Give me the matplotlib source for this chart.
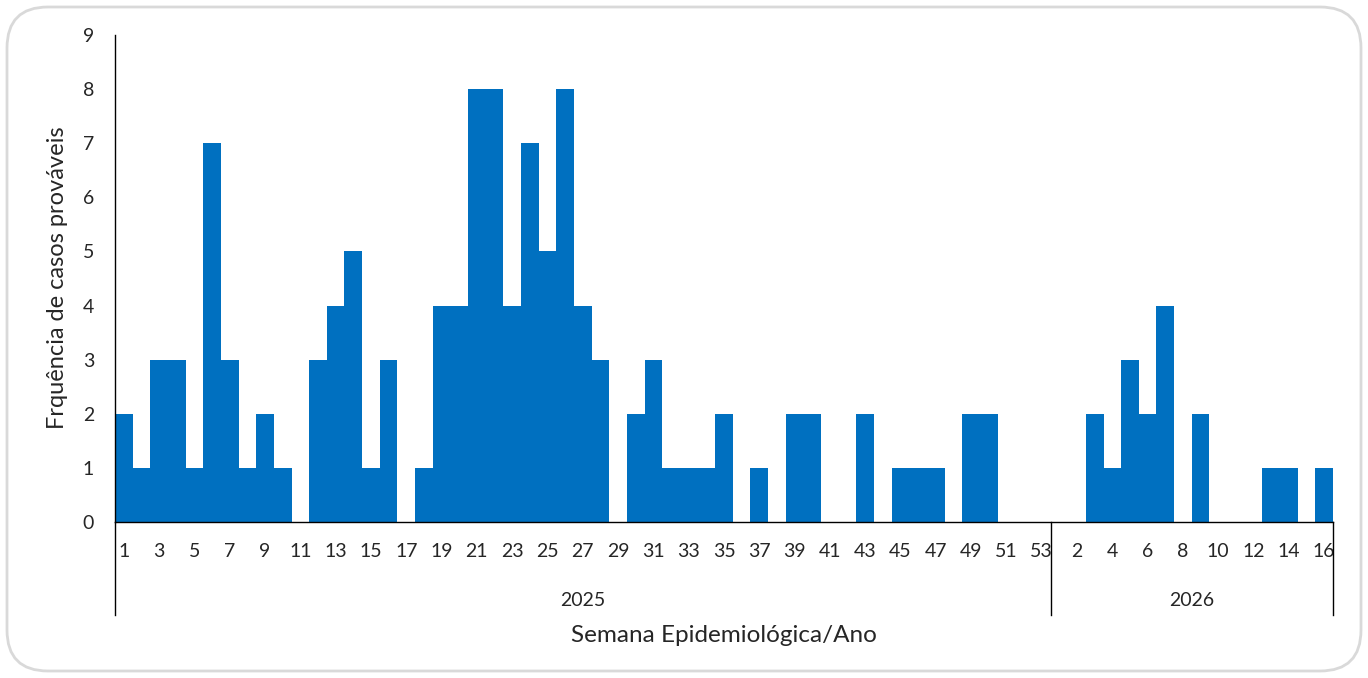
import matplotlib
matplotlib.use("Agg")
import matplotlib.pyplot as plt
from matplotlib.patches import FancyBboxPatch
from matplotlib.lines import Line2D

plt.rcParams['font.family'] = ['Lato', 'DejaVu Sans']

weeks_2025 = list(range(1, 54))
weeks_2026 = list(range(1, 17))
values_2025 = [2, 1, 3, 3, 1, 7, 3, 1, 2, 1, 0, 3, 4, 5, 1, 3, 0, 1, 4, 4,
               8, 8, 4, 7, 5, 8, 4, 3, 0, 2, 3, 1, 1, 1, 2, 0, 1, 0, 2, 2,
               0, 0, 2, 0, 1, 1, 1, 0, 2, 2, 0, 0, 0]
values_2026 = [0, 0, 2, 1, 3, 2, 4, 0, 2, 0, 0, 0, 1, 1, 0, 1]
years = ["2025", "2026"]
y_ticks = list(range(0, 10))

labels = [str(w) for w in weeks_2025] + [str(w) for w in weeks_2026]
values = values_2025 + values_2026
n = len(values)
xpos = list(range(n))

W, H = 1368, 678
fig = plt.figure(figsize=(W / 100, H / 100), dpi=100)
text_color = '#262626'

left, right, bottom, top = 115, 1333, 522, 35
ax = fig.add_axes([left / W, 1 - bottom / H, (right - left) / W, (bottom - top) / H])
ax.bar(xpos, values, width=1.0, color='#0070C0', linewidth=0)
ax.set_xlim(-0.5, n - 0.5)
ax.set_ylim(0, 9)
ax.set_yticks(y_ticks)
ax.set_yticklabels([str(t) for t in y_ticks], fontsize=14, color=text_color)
ax.set_xticks(xpos[::2])
ax.set_xticklabels(labels[::2], fontsize=14, color=text_color)
ax.tick_params(axis='y', length=0, pad=15)
ax.tick_params(axis='x', length=0, pad=15)
for s in ['top', 'right']:
    ax.spines[s].set_visible(False)
ax.spines['left'].set_color('black')
ax.spines['bottom'].set_color('black')
ax.spines['left'].set_linewidth(1.0)
ax.spines['bottom'].set_linewidth(1.0)

fig.text(58 / W, 1 - 278 / H, 'Frquência de casos prováveis', rotation=90, ha='center', va='center',
         fontsize=17, color=text_color)

# group separators extending below axis
sep_bottom = 1 - 615 / H
for xv in [-0.5, len(values_2025) - 0.5, n - 0.5]:
    xf = (left + (xv + 0.5) / n * (right - left)) / W
    fig.add_artist(Line2D([xf, xf], [sep_bottom, 1 - bottom / H], color='black', linewidth=1.0))

# year labels
n25 = len(values_2025)
centers = [(n25 - 1) / 2, n25 + (len(values_2026) - 1) / 2]
for c, yr in zip(centers, years):
    xf = (left + (c + 0.5) / n * (right - left)) / W
    fig.text(xf, 1 - 600 / H, yr, ha='center', va='center', fontsize=14, color=text_color)

fig.text((left + right) / 2 / W, 1 - 636 / H, 'Semana Epidemiológica/Ano', ha='center', va='center',
         fontsize=17.5, color=text_color)

border = FancyBboxPatch((7 / W, 7 / H), (W - 14) / W, (H - 14) / H,
                        boxstyle='round,pad=0,rounding_size=0.03', transform=fig.transFigure,
                        facecolor='none', edgecolor='#d9d9d9', linewidth=2, mutation_aspect=W / H)
fig.add_artist(border)

fig.savefig('out.png', dpi=100, facecolor='white')
